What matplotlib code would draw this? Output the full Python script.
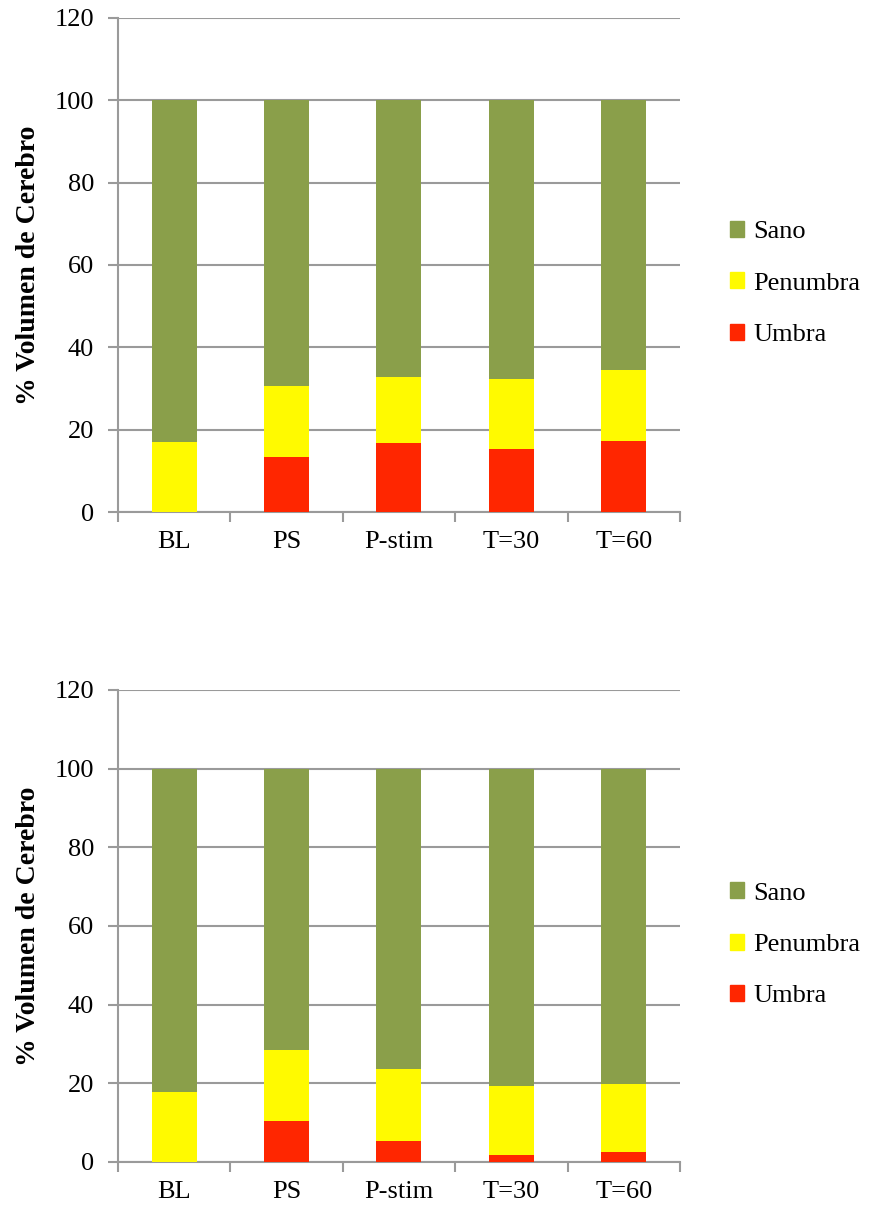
import numpy as np
import matplotlib.pyplot as plt
from matplotlib.patches import Patch

# ── Data ─────────────────────────────────────────────────────────────────────
categories = ["BL", "PS", "P-stim", "T=30", "T=60"]

umbra_top    = [0.0, 13.3, 16.7, 15.4, 17.2]
penumbra_top = [16.9, 30.6, 32.8, 32.3, 34.5]

umbra_bot    = [0.0, 10.5, 5.3, 1.8, 2.6]
penumbra_bot = [17.8, 28.5, 23.7, 19.4, 19.9]

total = 100.0

C_SANO  = "#8A9F4A"
C_PEN   = "#FFFA00"
C_UMBRA = "#FF2600"
GRID    = "#9A9A9A"

plt.rcParams["font.family"] = ["Liberation Serif", "DejaVu Serif"]

fig = plt.figure(figsize=(8.73, 12.11), dpi=100)
ax1 = fig.add_axes([0.135, 0.5772, 0.644, 0.408])
ax2 = fig.add_axes([0.135, 0.0405, 0.644, 0.3898])


def draw(ax, umbra, pen_top, legend_y):
    x = np.arange(len(categories))
    umbra = np.array(umbra)
    pen = np.array(pen_top) - umbra
    sano = total - np.array(pen_top)
    w = 0.4
    ax.bar(x, umbra, w, color=C_UMBRA, zorder=3)
    ax.bar(x, pen, w, bottom=umbra, color=C_PEN, zorder=3)
    ax.bar(x, sano, w, bottom=np.array(pen_top), color=C_SANO, zorder=3)

    ax.set_xlim(-0.5, len(categories) - 0.5)
    ax.set_ylim(0, 120)
    ax.set_yticks(range(0, 121, 20))
    ax.set_xticks(x)
    ax.set_xticklabels(categories, fontsize=19)
    ax.set_xticks(np.arange(-0.5, len(categories)), minor=True)
    ax.tick_params(axis="x", which="major", length=0, pad=14)
    ax.tick_params(axis="x", which="minor", length=7, width=1.5, color=GRID, direction="out")
    ax.tick_params(axis="y", length=7, width=1.5, color=GRID, labelsize=19, pad=10)
    ax.grid(True, axis="y", color=GRID, lw=1.5, zorder=0)
    for s in ("top", "right"):
        ax.spines[s].set_visible(False)
    for s in ("left", "bottom"):
        ax.spines[s].set_color(GRID)
        ax.spines[s].set_linewidth(1.5)
    ax.set_ylabel("% Volumen de Cerebro", fontsize=20, fontweight="bold", labelpad=10)

    handles = [Patch(color=C_SANO, label="Sano"),
               Patch(color=C_PEN, label="Penumbra"),
               Patch(color=C_UMBRA, label="Umbra")]
    ax.legend(handles=handles, loc="center left", bbox_to_anchor=(1.065, legend_y),
              frameon=False, fontsize=19, handlelength=0.55, handleheight=0.55,
              handletextpad=0.35, labelspacing=1.1, borderpad=0)


draw(ax1, umbra_top, penumbra_top, 0.4626)
draw(ax2, umbra_bot, penumbra_bot, 0.46)

fig.savefig("out.png", dpi=100)
